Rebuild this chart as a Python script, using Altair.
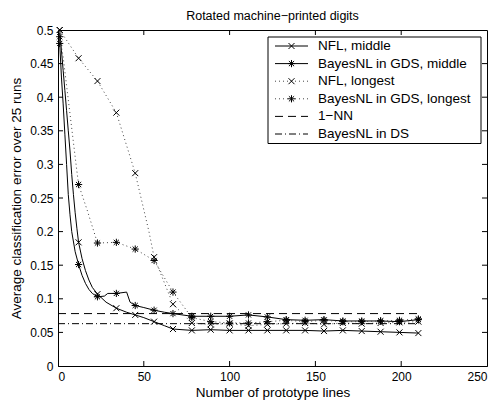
import altair as alt
import pandas as pd

TITLE = "Rotated machine\u2212printed digits"
X_TITLE = "Number of prototype lines"
Y_TITLE = "Average classification error over 25 runs"

X_TICKS = [0, 50, 100, 150, 200, 250]
Y_TICKS = [0, 0.05, 0.1, 0.15, 0.2, 0.25, 0.3, 0.35, 0.4, 0.45, 0.5]

NAMES = ["NFL, middle", "BayesNL in GDS, middle", "NFL, longest",
         "BayesNL in GDS, longest", "1\u2212NN", "BayesNL in DS"]

# marker positions (number of prototype lines)
X_MARK = [1, 12, 23, 34, 45, 56, 67, 78, 89, 100, 111, 122, 133, 144, 155, 166, 177, 188, 199, 210]

NFL_MIDDLE = [0.500, 0.184, 0.107, 0.086, 0.076, 0.066, 0.055, 0.053, 0.054, 0.053,
              0.053, 0.053, 0.053, 0.053, 0.052, 0.053, 0.052, 0.051, 0.050, 0.049]
GDS_MIDDLE = [0.480, 0.151, 0.103, 0.108, 0.090, 0.083, 0.078, 0.074, 0.074, 0.074,
              0.076, 0.073, 0.069, 0.068, 0.069, 0.067, 0.067, 0.067, 0.066, 0.069]
NFL_LONGEST = [0.500, 0.458, 0.424, 0.377, 0.287, 0.162, 0.092, 0.064, 0.062, 0.063,
               0.060, 0.062, 0.063, 0.064, 0.062, 0.064, 0.063, 0.064, 0.065, 0.066]
GDS_LONGEST = [0.490, 0.270, 0.183, 0.184, 0.174, 0.157, 0.110, 0.072, 0.066, 0.064,
               0.064, 0.066, 0.068, 0.066, 0.068, 0.066, 0.066, 0.067, 0.068, 0.070]

# extra points read along the curves between markers
NFL_MIDDLE_XE = [2, 3, 4, 5, 6, 7, 8, 9, 10, 11, 14, 16, 18, 20, 28, 40, 50, 62]
NFL_MIDDLE_YE = [0.470, 0.440, 0.410, 0.380, 0.350, 0.320, 0.285, 0.255, 0.228, 0.205,
                 0.160, 0.142, 0.128, 0.117, 0.095, 0.080, 0.072, 0.060]
GDS_MIDDLE_XE = [2, 3, 4, 5, 6, 7, 8, 10, 14, 16, 18, 20, 27, 29, 40, 42, 50, 62]
GDS_MIDDLE_YE = [0.430, 0.390, 0.345, 0.300, 0.255, 0.225, 0.200, 0.170, 0.135, 0.123,
                 0.114, 0.108, 0.104, 0.108, 0.110, 0.095, 0.087, 0.080]
GDS_LONGEST_XE = [3, 11, 17]
GDS_LONGEST_YE = [0.460, 0.290, 0.232]
NFL_LONGEST_XE = [53]
NFL_LONGEST_YE = [0.200]

ONE_NN = 0.078
BAYES_DS = 0.063
BASE_X = [0, 210]

W, H = 429, 336
FONT = "Liberation Sans"
TICK_FS = 12
TEXT_FS = 13.5
TITLE_FS = 12.5

X_PATH = "M-1,-1L1,1M-1,1L1,-1"
STAR_PATH = "M0,-1L0,1M-1,0L1,0M-0.72,-0.72L0.72,0.72M-0.72,0.72L0.72,-0.72"

xscale = alt.Scale(domain=[0, 250], nice=False)
yscale = alt.Scale(domain=[0, 0.5], nice=False)
X_AXIS = alt.Axis(values=X_TICKS, title=X_TITLE, labelPadding=5, titlePadding=3, format="d")
Y_AXIS = alt.Axis(values=Y_TICKS, title=Y_TITLE, labelPadding=5, titlePadding=6, format="~g")


def xenc(field):
    return alt.X(f"{field}:Q", scale=xscale, axis=X_AXIS)


def yenc(field):
    return alt.Y(f"{field}:Q", scale=yscale, axis=Y_AXIS)


def line_df(xm, ym, xe=(), ye=()):
    df = pd.DataFrame({"x": list(xm) + list(xe), "y": list(ym) + list(ye)})
    return df.sort_values("x").reset_index(drop=True)


layers = []

# inward ticks (MATLAB box style)
xt = pd.DataFrame({"t": X_TICKS[1:-1]})
yt = pd.DataFrame({"v": Y_TICKS[1:-1]})
layers.append(alt.Chart(xt).mark_rule(color="black", strokeWidth=1).encode(
    x=xenc("t"), y=alt.value(H), y2=alt.value(H - 5)))
layers.append(alt.Chart(xt).mark_rule(color="black", strokeWidth=1).encode(
    x=xenc("t"), y=alt.value(0), y2=alt.value(5)))
layers.append(alt.Chart(yt).mark_rule(color="black", strokeWidth=1).encode(
    y=yenc("v"), x=alt.value(0), x2=alt.value(5)))
layers.append(alt.Chart(yt).mark_rule(color="black", strokeWidth=1).encode(
    y=yenc("v"), x=alt.value(W), x2=alt.value(W - 5)))

SOLID = None
DOT = [1, 3]
DASH = [8, 5]
DASHDOT = [7, 3, 1, 3]

series = [
    (NAMES[0], line_df(X_MARK, NFL_MIDDLE, NFL_MIDDLE_XE, NFL_MIDDLE_YE), NFL_MIDDLE, SOLID, X_PATH),
    (NAMES[1], line_df(X_MARK, GDS_MIDDLE, GDS_MIDDLE_XE, GDS_MIDDLE_YE), GDS_MIDDLE, SOLID, STAR_PATH),
    (NAMES[2], line_df(X_MARK, NFL_LONGEST, NFL_LONGEST_XE, NFL_LONGEST_YE), NFL_LONGEST, DOT, X_PATH),
    (NAMES[3], line_df(X_MARK, GDS_LONGEST, GDS_LONGEST_XE, GDS_LONGEST_YE), GDS_LONGEST, DOT, STAR_PATH),
]

for name, df, ym, dash, shape in series:
    kw = dict(color="black", strokeWidth=1)
    if dash is not None:
        kw["strokeDash"] = dash
        kw["color"] = "#444444"
    layers.append(alt.Chart(df).mark_line(**kw).encode(x=xenc("x"), y=yenc("y")))
    mdf = pd.DataFrame({"x": X_MARK, "y": ym})
    size = 36 if shape == X_PATH else 52
    layers.append(alt.Chart(mdf).mark_point(shape=shape, size=size, filled=False, color="black",
                                            strokeWidth=1, opacity=1).encode(x=xenc("x"), y=yenc("y")))

nn_df = pd.DataFrame({"x": BASE_X, "y": [ONE_NN, ONE_NN]})
ds_df = pd.DataFrame({"x": BASE_X, "y": [BAYES_DS, BAYES_DS]})
layers.append(alt.Chart(nn_df).mark_line(color="black", strokeWidth=1, strokeDash=DASH).encode(
    x=xenc("x"), y=yenc("y")))
layers.append(alt.Chart(ds_df).mark_line(color="black", strokeWidth=1, strokeDash=DASHDOT).encode(
    x=xenc("x"), y=yenc("y")))

# legend box
one = pd.DataFrame({"label": ["legend"]})
layers.append(alt.Chart(one).mark_rect(fill="white", stroke="black", strokeWidth=1).encode(
    x=alt.value(210), x2=alt.value(423), y=alt.value(7), y2=alt.value(113.5)))

leg_styles = [(SOLID, X_PATH), (SOLID, STAR_PATH), (DOT, X_PATH), (DOT, STAR_PATH), (DASH, None), (DASHDOT, None)]
row0, step = 16, 17.6
for i, (name, (dash, shape)) in enumerate(zip(NAMES, leg_styles)):
    ry = row0 + i * step
    d = pd.DataFrame({"label": [name]})
    kw = dict(color="black", strokeWidth=1)
    if dash is not None:
        kw["strokeDash"] = dash
        if dash == DOT:
            kw["color"] = "#444444"
    layers.append(alt.Chart(d).mark_rule(**kw).encode(
        x=alt.value(217), x2=alt.value(250), y=alt.value(ry)))
    if shape is not None:
        size = 36 if shape == X_PATH else 52
        layers.append(alt.Chart(d).mark_point(shape=shape, size=size, filled=False, color="black",
                                              strokeWidth=1, opacity=1).encode(
            x=alt.value(233.5), y=alt.value(ry)))
    layers.append(alt.Chart(d).mark_text(align="left", baseline="middle", font=FONT, fontSize=TEXT_FS,
                                         color="black").encode(
        x=alt.value(260), y=alt.value(ry), text=alt.Text("label:N")))

# chart title as text above the plot area
tdf = pd.DataFrame({"label": [TITLE]})
layers.append(alt.Chart(tdf).mark_text(align="center", baseline="middle", font=FONT, fontSize=TITLE_FS,
                                       color="black").encode(
    x=alt.value(W / 2), y=alt.value(-14.5), text=alt.Text("label:N")))

chart = alt.layer(*layers).properties(
    width=W, height=H,
    autosize=alt.AutoSizeParams(type="none"),
    padding={"left": 50, "top": 22, "right": 5, "bottom": 35},
).configure_view(stroke="black", strokeWidth=1).configure_axis(
    labelFont=FONT, labelFontSize=TICK_FS, labelColor="black",
    titleFont=FONT, titleFontSize=TEXT_FS, titleFontWeight="normal", titleColor="black",
    domainColor="black", domainWidth=1, grid=False, ticks=False,
)

chart.save("out.html", embed_options={"renderer": "svg", "actions": False})
